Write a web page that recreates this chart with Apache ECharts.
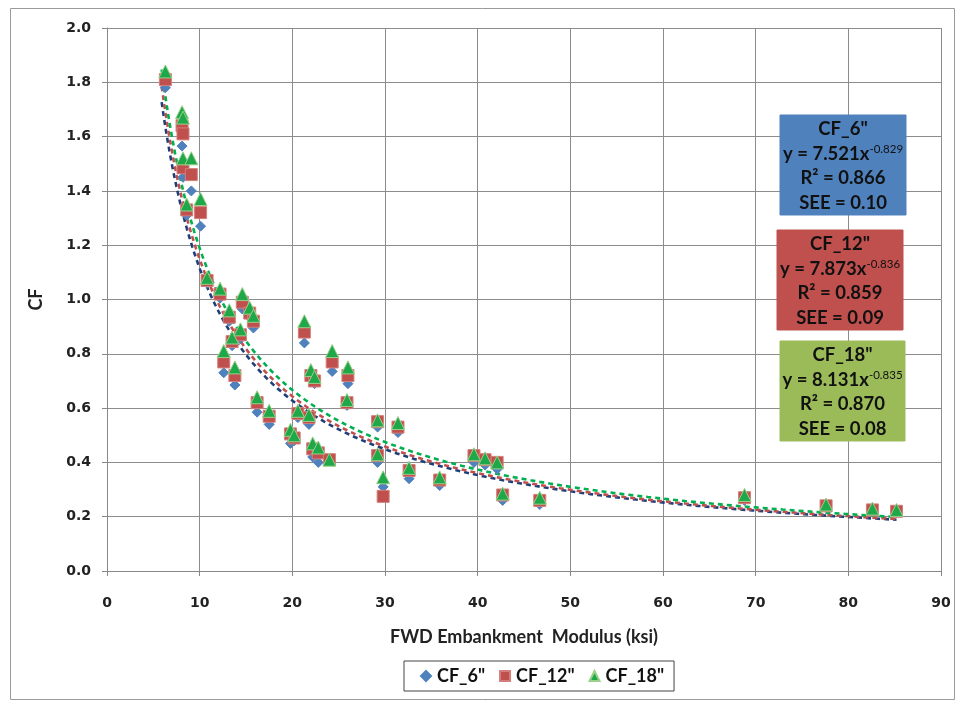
<!DOCTYPE html>
<html>
<head>
<meta charset="utf-8">
<script src="https://cdn.jsdelivr.net/npm/echarts@6/dist/echarts.min.js"></script>
<style>
  html, body { margin: 0; padding: 0; background: #fff; }
  #chart { width: 963px; height: 704px; }
</style>
</head>
<body>
<div id="chart"></div>
<script>
// FWD embankment modulus (ksi) for each test site
const modulus = [6.3, 8.1, 8.2, 8.2, 8.6, 9.1, 10.1, 10.8, 12.2, 12.6, 13.2, 13.5, 13.8, 14.4, 14.6, 15.4, 15.8, 16.2, 17.5,
  19.8, 20.2, 20.6, 21.3, 21.8, 22.0, 22.2, 22.4, 22.8, 24.0, 24.3, 25.9, 26.0,
  29.2, 29.2, 29.8, 31.4, 32.6, 35.9, 39.6, 40.8, 42.1, 42.7, 46.7, 68.8, 77.6, 82.6, 85.2];

// Correction factor at 6", 12" and 18" depth
const cf6 = [1.78, 1.565, 1.50, 1.45, 1.31, 1.40, 1.27, 1.06, 1.005, 0.73, 0.92, 0.83, 0.685, 0.855, 0.965, 0.935, 0.895, 0.585, 0.54,
  0.47, 0.48, 0.565, 0.84, 0.54, 0.71, 0.42, 0.69, 0.40, 0.405, 0.735, 0.61, 0.69,
  0.53, 0.40, 0.31, 0.51, 0.34, 0.315, 0.40, 0.39, 0.375, 0.26, 0.245, 0.26, 0.235, 0.22, 0.215];
const cf12 = [1.81, 1.64, 1.61, 1.485, 1.33, 1.46, 1.32, 1.07, 1.02, 0.77, 0.935, 0.845, 0.72, 0.87, 0.99, 0.95, 0.92, 0.62, 0.57,
  0.505, 0.49, 0.58, 0.88, 0.565, 0.72, 0.45, 0.70, 0.435, 0.41, 0.77, 0.62, 0.72,
  0.55, 0.425, 0.275, 0.53, 0.37, 0.335, 0.425, 0.41, 0.40, 0.28, 0.26, 0.27, 0.24, 0.225, 0.22];
const cf18 = [1.84, 1.69, 1.67, 1.52, 1.35, 1.52, 1.37, 1.08, 1.04, 0.81, 0.96, 0.86, 0.75, 0.89, 1.02, 0.97, 0.94, 0.64, 0.59,
  0.52, 0.50, 0.59, 0.92, 0.575, 0.74, 0.47, 0.715, 0.455, 0.41, 0.81, 0.63, 0.75,
  0.555, 0.43, 0.345, 0.545, 0.38, 0.345, 0.43, 0.415, 0.40, 0.285, 0.27, 0.28, 0.245, 0.23, 0.225];

// Power-law fits y = a * x^b, with the stated statistics
const seriesNames = ['CF_6"', 'CF_12"', 'CF_18"'];
const fitA = [7.521, 7.873, 8.131];
const fitB = [-0.829, -0.836, -0.835];
const fitR2 = ['0.866', '0.859', '0.870'];
const fitSEE = ['0.10', '0.09', '0.08'];
const fitRange = [5.9, 85.2];

const yTicks = ['0.0', '0.2', '0.4', '0.6', '0.8', '1.0', '1.2', '1.4', '1.6', '1.8', '2.0'];

const markerColors = ['#4f81bd', '#c0504d', '#1ea84a'];
const markerBorders = ['#4f81bd', '#d47e7b', '#9bd08a'];
const trendColors = ['#1f3f7a', '#c0504d', '#00b050'];
const boxColors = ['#4f81bd', '#c0504d', '#9bbb59'];
const symbols = ['diamond', 'rect', 'triangle'];
const symbolSizes = [10, 12, 13];
const values = [cf6, cf12, cf18];

function pairs(ys) { return modulus.map((x, i) => [x, ys[i]]); }
function fitCurve(k) {
  const pts = [];
  const n = 120;
  for (let i = 0; i <= n; i++) {
    const x = fitRange[0] * Math.pow(fitRange[1] / fitRange[0], i / n);
    pts.push([x, fitA[k] * Math.pow(x, fitB[k])]);
  }
  return pts;
}

const textFont = 'Lato, "Open Sans", sans-serif';
const series = [];
for (let k = 0; k < 3; k++) {
  series.push({
    name: 'trend' + k,
    type: 'line',
    data: fitCurve(k),
    showSymbol: false,
    symbol: 'none',
    smooth: false,
    silent: true,
    z: 3,
    lineStyle: { color: trendColors[k], width: 2.6, type: [5, 4] }
  });
}
for (let k = 0; k < 3; k++) {
  series.push({
    name: seriesNames[k],
    type: 'scatter',
    data: pairs(values[k]),
    symbol: symbols[k],
    symbolSize: symbolSizes[k],
    z: 4,
    itemStyle: { color: markerColors[k], borderColor: markerBorders[k], borderWidth: 1, opacity: 1 }
  });
}

// Equation boxes on the right of the plot
const boxes = [
  { x: 780, y: 115, w: 126, h: 100 },
  { x: 777, y: 230, w: 126, h: 100 },
  { x: 780, y: 341, w: 125, h: 100 }
];
const graphic = [{
  type: 'rect', shape: { x: 10.5, y: 8.5, width: 944, height: 691 },
  style: { fill: 'none', stroke: '#9a9a9a', lineWidth: 1 }, z: 0, silent: true
}];
boxes.forEach((b, k) => {
  graphic.push({
    type: 'rect', shape: { x: b.x, y: b.y, width: b.w, height: b.h },
    style: { fill: boxColors[k], stroke: boxColors[k] }, z: 10
  });
  graphic.push({
    type: 'text', x: b.x + b.w / 2, y: b.y + b.h / 2 + 1, z: 11,
    style: {
      text: seriesNames[k] + '\ny = ' + fitA[k].toFixed(3) + 'x{sup|' + fitB[k].toFixed(3) + '}\nR² = ' + fitR2[k] + '\nSEE = ' + fitSEE[k],
      align: 'center', verticalAlign: 'middle',
      font: 'bold 18.5px ' + textFont,
      lineHeight: 24.5,
      fill: '#111',
      rich: {
        sup: { fontSize: 11.5, fontWeight: 'normal', fontFamily: textFont, padding: [0, 0, 9, 0], fill: '#111' }
      }
    }
  });
});

const chart = echarts.init(document.getElementById('chart'), null, { renderer: 'canvas' });
chart.setOption({
  animation: false,
  backgroundColor: '#ffffff',
  grid: { left: 107, right: 22, top: 28, bottom: 133, containLabel: false },
  xAxis: {
    type: 'value', min: 0, max: 90, interval: 10,
    name: 'FWD Embankment  Modulus (ksi)', nameLocation: 'middle', nameGap: 57,
    nameTextStyle: { fontFamily: textFont, fontWeight: 'bold', fontSize: 18, color: '#222' },
    axisLine: { show: true, onZero: false, lineStyle: { color: '#888', width: 1 } },
    axisTick: { show: true, inside: false, length: 5, lineStyle: { color: '#888' } },
    axisLabel: { fontFamily: 'DejaVu Sans', fontWeight: 'bold', fontSize: 14, color: '#222', margin: 25 },
    splitLine: { show: true, lineStyle: { color: '#8c8c8c', width: 1 } }
  },
  yAxis: {
    type: 'value', min: 0, max: 2, interval: 0.2,
    name: 'CF', nameLocation: 'middle', nameGap: 62, nameRotate: 90,
    nameTextStyle: { fontFamily: textFont, fontWeight: 'bold', fontSize: 18, color: '#222' },
    axisLine: { show: true, onZero: false, lineStyle: { color: '#888', width: 1 } },
    axisTick: { show: true, inside: false, length: 5, lineStyle: { color: '#888' } },
    axisLabel: {
      fontFamily: 'DejaVu Sans', fontWeight: 'bold', fontSize: 14, color: '#222', margin: 16,
      formatter: (v) => yTicks[Math.round(v / 0.2)]
    },
    splitLine: { show: true, lineStyle: { color: '#8c8c8c', width: 1 } }
  },
  legend: {
    data: seriesNames.map((n, k) => ({ name: n, icon: symbols[k] })),
    left: 404, top: 661,
    orient: 'horizontal',
    itemWidth: 10, itemHeight: 10, itemGap: 14,
    padding: [6, 10, 6, 16],
    borderColor: '#444', borderWidth: 1,
    textStyle: { fontFamily: textFont, fontWeight: 'bold', fontSize: 18, color: '#111', padding: [0, 0, 0, 1] }
  },
  graphic: graphic,
  series: series
});
</script>
</body>
</html>
